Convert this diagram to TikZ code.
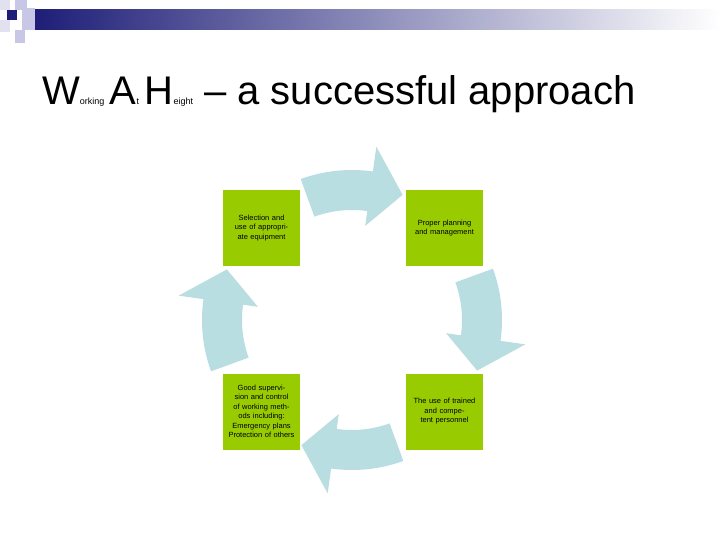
\documentclass[tikz,border=0pt]{standalone}
\usepackage{fontspec}
\setmainfont{Liberation Sans}
\definecolor{navy}{RGB}{30,30,120}
\definecolor{lav}{RGB}{200,200,230}
\definecolor{pale}{RGB}{225,225,240}
\definecolor{grn}{RGB}{153,204,0}
\definecolor{cyc}{RGB}{185,222,226}
\tikzset{box/.style={fill=grn,minimum width=77pt,minimum height=76pt,text width=72pt,align=center,inner sep=1pt,font=\fontsize{7.5}{9.5}\selectfont}}
\begin{document}
\begin{tikzpicture}[x=1pt,y=-1pt]
\useasboundingbox[fill=white] (0,0) rectangle (720,540);
% top decoration
\shade[left color=navy,right color=white] (35,10) rectangle (720,30);
\fill[pale] (0,0) rectangle (10,10);
\fill[lav] (15,0) rectangle (27,10);
\fill[navy] (7,10) rectangle (17,20);
\fill[lav] (22,8) rectangle (35,30);
\fill[pale] (0,20) rectangle (10,32);
\fill[lav] (15,30) rectangle (25,43);
% title
\node[anchor=base west,inner sep=0] (title) at (42,105) {\fontsize{40}{40}\selectfont W\fontsize{9}{9}\selectfont orking\,\, \fontsize{40}{40}\selectfont A\fontsize{9}{9}\selectfont t\,\, \fontsize{40}{40}\selectfont H\fontsize{9}{9}\selectfont eight\fontsize{40}{40}\selectfont{} – a successful approach};
% cycle arrows
\begin{scope}[shift={(352,320)},yscale=-1]
\foreach \ta/\tp in {110/68,20/-22,-70/-112,200/158}{
  \pgfmathsetmacro\hb{\tp+14}
  \fill[cyc] (\ta:150) arc[start angle=\ta,end angle=\hb,radius=150] -- (\hb:175) -- (\tp:135) -- (\hb:95) -- (\hb:110) arc[start angle=\hb,end angle=\ta,radius=110] -- cycle;
}
\end{scope}
% boxes
\node[box] (sel) at (261.5,228) {Selection and use of appropriate equipment};
\node[box] (plan) at (444.5,228) {Proper planning and management};
\node[box] (sup) at (261.5,411.5) {Good supervision and control of working methods including:\\Emergency plans\\Protection of others};
\node[box] (pers) at (444.5,411.5) {The use of trained and competent personnel};
\end{tikzpicture}
\end{document}
